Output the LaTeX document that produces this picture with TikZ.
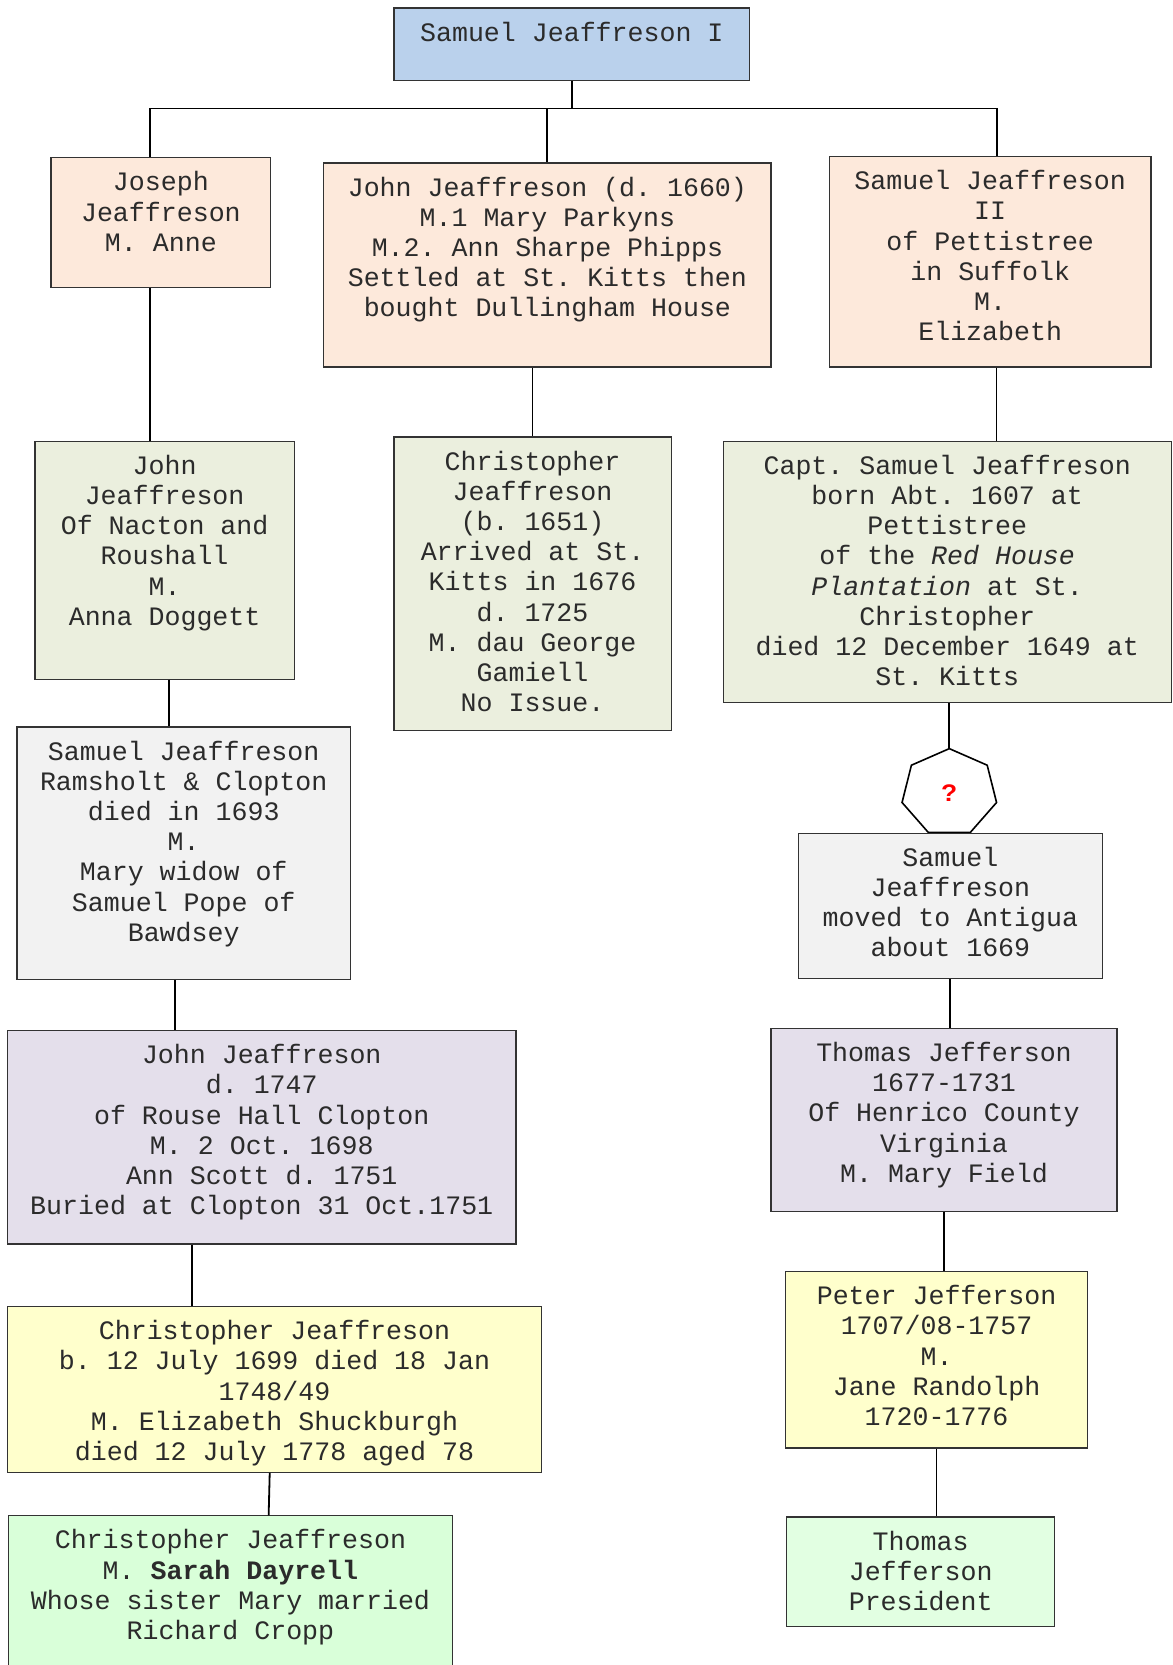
\documentclass[tikz,border=0pt]{standalone}
\usepackage{fontspec}
\setmainfont{Liberation Mono}
\newfontfamily\qfont{Liberation Sans}
\usetikzlibrary{shapes.geometric, positioning}
\usepackage{xcolor}
\definecolor{topblue}{HTML}{BAD1EC}
\definecolor{peach}{HTML}{FDE9DB}
\definecolor{olivegreen}{HTML}{EBEFDE}
\definecolor{lightgray}{HTML}{F2F2F2}
\definecolor{lavender}{HTML}{E4DFEB}
\definecolor{paleyellow}{HTML}{FFFFCC}
\definecolor{mintgreen}{HTML}{D9FFD9}
\definecolor{palemint}{HTML}{E2FFE2}
\definecolor{inkgray}{HTML}{2B2B2B}
\newlength{\pxu}
\setlength{\pxu}{0.5308pt}
\tikzset{size/.style 2 args={minimum width=#1\pxu, minimum height=#2\pxu}}
\frenchspacing

\begin{document}
\begin{tikzpicture}[
    x=\pxu, y=-\pxu,
    person/.style={draw=black!80, line width=0.6pt, anchor=north, inner sep=0pt},
    txt/.style={anchor=north, align=center, inner sep=0pt, yshift=-7pt, text=inkgray,
        font=\fontsize{13.3}{15.1}\selectfont},
    hept/.style={draw, fill=white, line width=0.8pt, regular polygon, regular polygon sides=7,
        minimum size=83\pxu, inner sep=0pt},
    line/.style={draw, line width=0.9pt},
]
\useasboundingbox (0,0) rectangle (1104,1568);

\node[person, fill=topblue, size={335}{68}, label={[txt]north:{Samuel Jeaffreson I}}] (top) at (538.5,7) {};

\node[person, fill=peach, size={207}{122}, label={[txt]north:{Joseph\\Jeaffreson\\M. Anne}}] (joseph) at (151.5,148) {};
\node[person, fill=peach, size={421}{192}, label={[txt]north:{John Jeaffreson (d. 1660)\\M.1 Mary Parkyns\\M.2. Ann Sharpe Phipps\\Settled at St. Kitts then\\bought Dullingham House}}] (john1660) at (515.5,153) {};
\node[person, fill=peach, size={303}{198}, label={[txt]north:{Samuel Jeaffreson\\II\\of Pettistree\\in Suffolk\\M.\\Elizabeth}}] (samuel2) at (932.5,147) {};

\node[person, fill=olivegreen, size={244}{224}, label={[txt]north:{John\\Jeaffreson\\Of Nacton and\\Roushall\\M.\\Anna Doggett}}] (nacton) at (155,415) {};
\node[person, fill=olivegreen, size={261}{276}, label={[txt]north:{Christopher\\Jeaffreson\\(b. 1651)\\Arrived at St.\\Kitts in 1676\\d. 1725\\M. dau George\\Gamiell\\No Issue.}}] (chris1651) at (501.5,411) {};
\node[person, fill=olivegreen, size={422}{246}, label={[txt]north:{Capt. Samuel Jeaffreson\\born Abt. 1607 at\\Pettistree\\of the \emph{Red House}\\\emph{Plantation} at St.\\Christopher\\died 12 December 1649 at\\St. Kitts}}] (capt) at (892,415) {};

\node[hept, xscale=1.1, transform shape] (unknown) at (894,746.5) {\qfont\bfseries\fontsize{12}{12}\selectfont\textcolor{red}{?}};

\node[person, fill=lightgray, size={314}{238}, label={[txt]north:{Samuel Jeaffreson\\Ramsholt \& Clopton\\died in 1693\\M.\\Mary widow of\\Samuel Pope of\\Bawdsey}}] (ramsholt) at (173,684) {};
\node[person, fill=lightgray, size={286}{137}, label={[txt]north:{Samuel\\Jeaffreson\\moved to Antigua\\about 1669}}] (antigua) at (895,784) {};

\node[person, fill=lavender, size={479}{201}, label={[txt]north:{John Jeaffreson\\d. 1747\\of Rouse Hall Clopton\\M. 2 Oct. 1698\\Ann Scott d. 1751\\Buried at Clopton 31 Oct.1751}}] (john1747) at (246.5,970) {};
\node[person, fill=lavender, size={326}{172}, label={[txt]north:{Thomas Jefferson\\1677-1731\\Of Henrico County\\Virginia\\M. Mary Field}}] (thomas1677) at (889,968) {};

\node[person, fill=paleyellow, size={503}{156}, label={[txt]north:{Christopher Jeaffreson\\b. 12 July 1699 died 18 Jan\\1748/49\\M. Elizabeth Shuckburgh\\died 12 July 1778 aged 78}}] (chris1699) at (258.5,1230) {};
\node[person, fill=paleyellow, size={284}{166}, label={[txt]north:{Peter Jefferson\\1707/08-1757\\M.\\Jane Randolph\\1720-1776}}] (peter) at (882,1197) {};

\node[person, fill=mintgreen, size={418}{150}, label={[txt]north:{Christopher Jeaffreson\\M. \textbf{Sarah Dayrell}\\Whose sister Mary married\\Richard Cropp}}] (chrisSarah) at (217,1427) {};
\node[person, fill=palemint, size={252}{103}, label={[txt]north:{Thomas\\Jefferson\\President}}] (thomasPres) at (867,1428) {};

\draw[line] (top.south) -- ++(0,26) coordinate (bus);
\draw[line] ([xshift=-10.5\pxu]joseph.north) |- (bus) -| ([xshift=6.5\pxu]samuel2.north);
\draw[line] (bus -| john1660.north) -- (john1660.north);

\draw[line] ([xshift=-10.5\pxu]joseph.south) -- ([xshift=-10.5\pxu]joseph.south |- nacton.north);
\draw[line] (john1660.south -| chris1651.north) -- (chris1651.north);
\draw[line] ([xshift=6\pxu]samuel2.south) -- ([xshift=6\pxu]samuel2.south |- capt.north);

\draw[line] ([xshift=4\pxu]nacton.south) -- ([xshift=4\pxu]nacton.south |- ramsholt.north);
\draw[line] (capt.south -| unknown.north) -- (unknown.north);

\draw[line] ([xshift=-8\pxu]ramsholt.south) -- ([xshift=-8\pxu]ramsholt.south |- john1747.north);
\draw[line] (antigua.south) -- (antigua.south |- thomas1677.north);

\draw[line] ([xshift=-65.5\pxu]john1747.south) -- ([xshift=-65.5\pxu]john1747.south |- chris1699.north);
\draw[line] (thomas1677.south) -- (thomas1677.south |- peter.north);

\draw[line] ([xshift=-4.5\pxu]chris1699.south) -- ([xshift=36\pxu]chrisSarah.north);
\draw[line] (peter.south) -- (peter.south |- thomasPres.north);

\end{tikzpicture}
\end{document}
